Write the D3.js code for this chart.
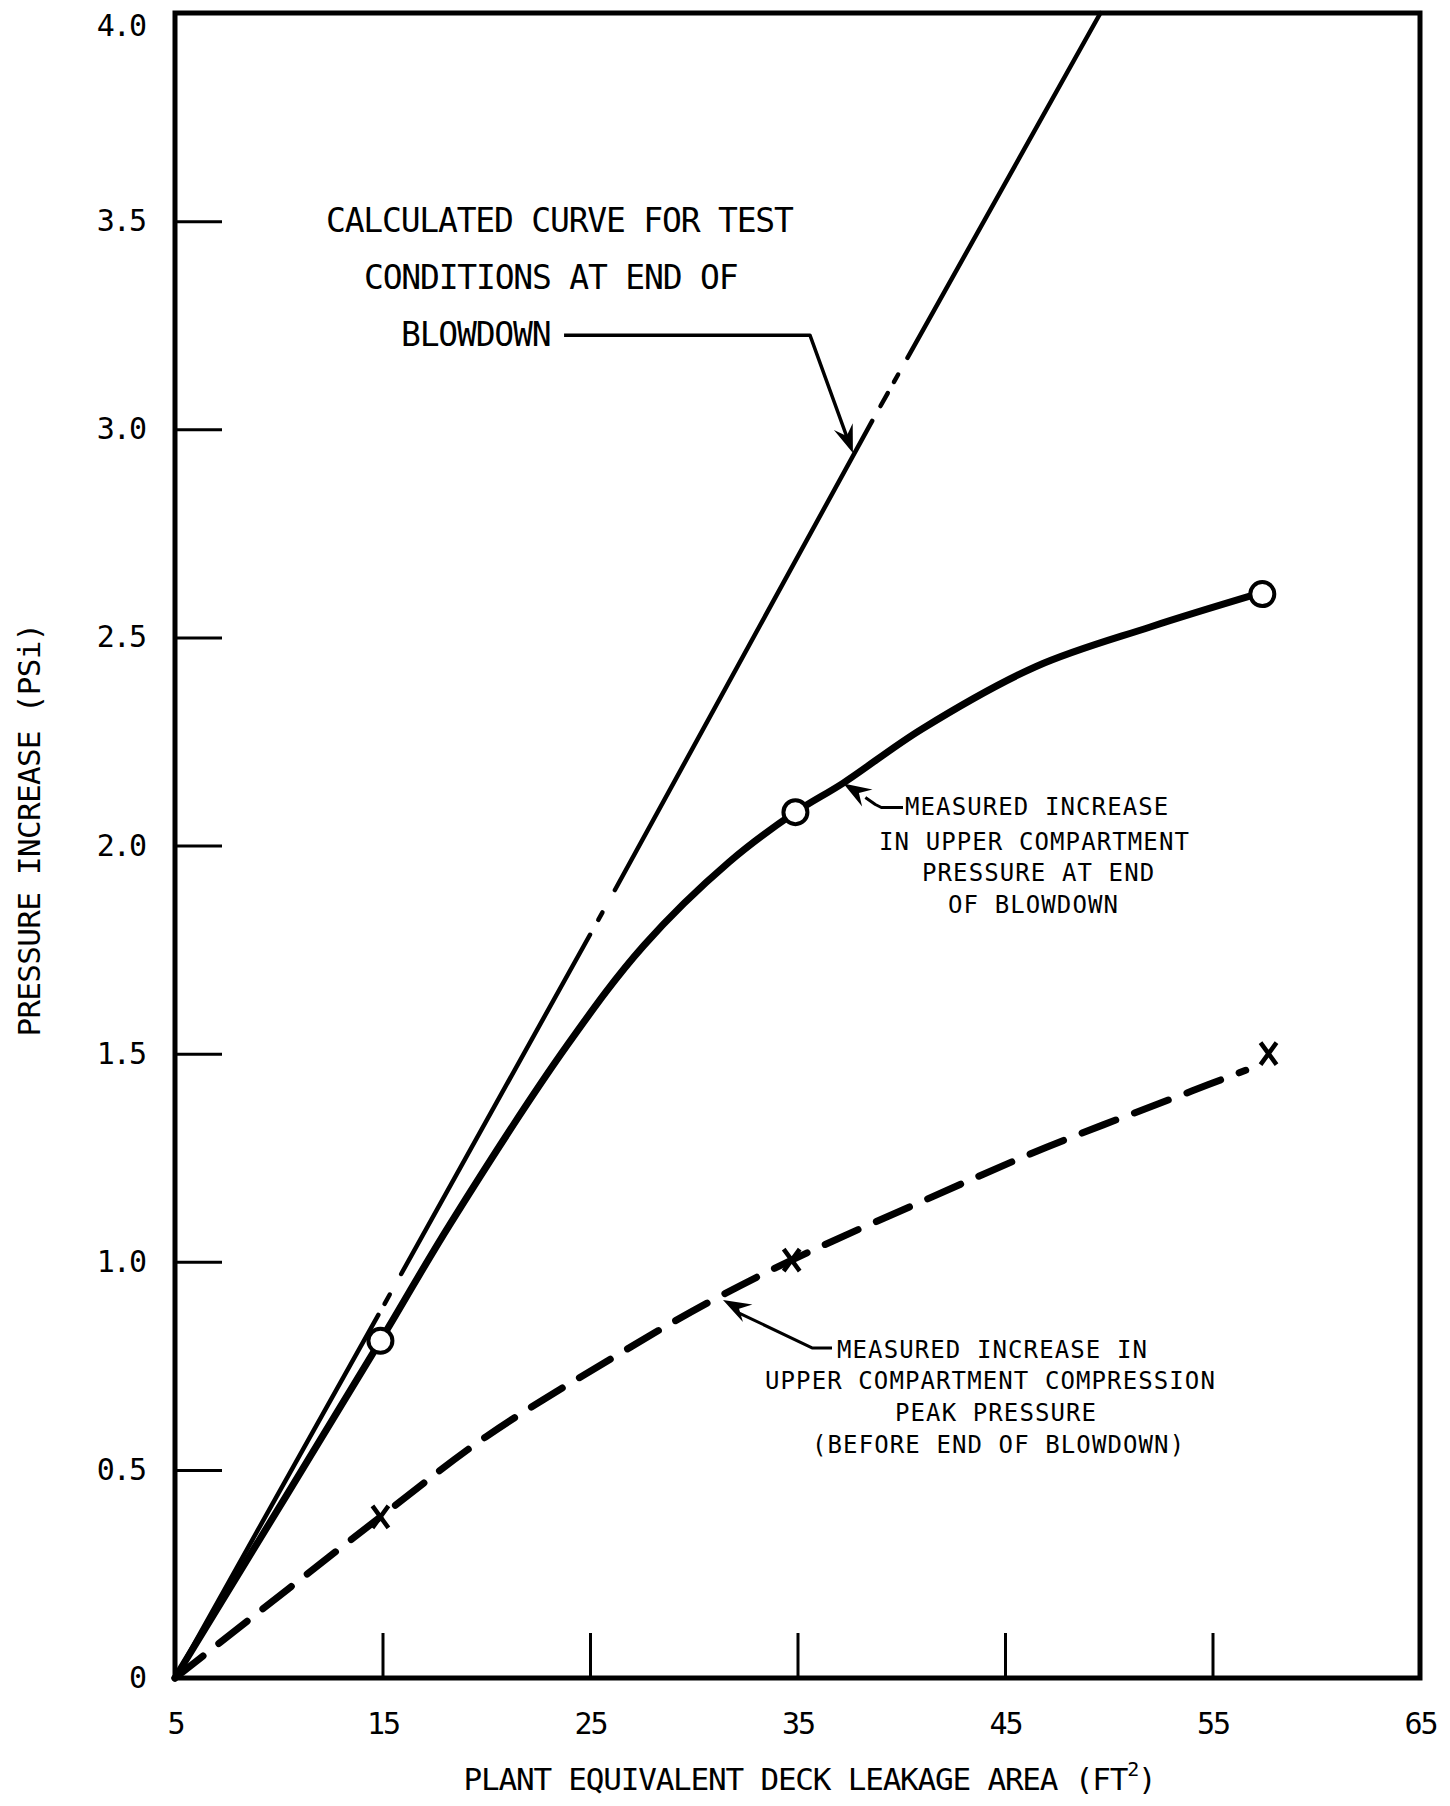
<!DOCTYPE html>
<html><head><meta charset="utf-8">
<script src="https://cdn.jsdelivr.net/npm/d3@7"></script>
<style>body{margin:0;background:#fff}svg{display:block}</style>
</head><body><svg id="c" width="1450" height="1806"></svg>
<script>
// ---------- data ----------
const xTicks = [5, 15, 25, 35, 45, 55, 65];
const yTicks = [0, 0.5, 1.0, 1.5, 2.0, 2.5, 3.0, 3.5, 4.0];

// calculated curve (end of blowdown)
const calcX = [5, 15, 26.2, 37.7, 49.6];
const calcY = [0, 0.89, 1.893, 2.94, 4.0];
// x-ranges where the calculated curve is drawn (breaks = dash-dot sections)
const calcPieces = [[5, 14.8], [15.1, 15.35], [15.9, 25.0], [25.4, 25.6], [26.2, 38.6], [39.0, 39.35], [39.65, 39.85], [40.3, 49.6]];

// measured increase in upper compartment pressure at end of blowdown (solid, circles)
const upperX = [5, 14.9, 18.25, 23.9, 27.6, 31.7, 34.9, 37.2, 41.0, 46.5, 52.0, 57.2];
const upperY = [0, 0.81, 1.09, 1.52, 1.76, 1.96, 2.08, 2.15, 2.28, 2.43, 2.525, 2.605];
const circleX = [14.9, 34.9, 57.4];
const circleY = [0.81, 2.08, 2.604];

// measured compression peak pressure (dashed, X markers)
const peakX = [5, 14.9, 20.0, 26.45, 30.62, 34.72, 41.0, 47.0, 54.0, 56.6];
const peakY = [0, 0.387, 0.58, 0.78, 0.90, 1.004, 1.145, 1.275, 1.41, 1.46];
const crossX = [14.9, 34.72, 57.7];
const crossY = [0.387, 1.004, 1.50];

// annotation texts
const note1 = ["CALCULATED CURVE FOR TEST", "CONDITIONS AT END OF", "BLOWDOWN"];
const note2 = ["MEASURED INCREASE", "IN UPPER COMPARTMENT", "PRESSURE AT END", "OF BLOWDOWN"];
const note3 = ["MEASURED INCREASE IN", "UPPER COMPARTMENT COMPRESSION", "PEAK PRESSURE", "(BEFORE END OF BLOWDOWN)"];

// ---------- drawing ----------
const FONT = "'DejaVu Sans Mono', 'Liberation Mono', monospace";
const svg = d3.select("#c");
const x = d3.scaleLinear().domain([5, 65]).range([175, 1420]);
const y = d3.scaleLinear().domain([0, 4]).range([1678, 13]);

// axes
const fmt = d => d === 0 ? "0" : d.toFixed(1);
const gy = svg.append("g").attr("transform", `translate(${x(5)},0)`)
  .call(d3.axisLeft(y).tickValues(yTicks).tickSize(-47).tickPadding(30).tickFormat(fmt));
const gx = svg.append("g").attr("transform", `translate(0,${y(0)})`)
  .call(d3.axisBottom(x).tickValues(xTicks).tickSize(-45).tickPadding(35).tickFormat(d3.format("d")));
[gx, gy].forEach(g => {
  g.select(".domain").remove();
  g.selectAll(".tick line").attr("stroke", "#000").attr("stroke-width", 3);
  g.selectAll(".tick text").attr("fill", "#000").style("font-family", FONT)
    .style("font-size", "30px").style("letter-spacing", "-2px");
});
// top label sits just below the frame corner so it is not clipped
gy.selectAll(".tick text").filter(d => d === 4).attr("dy", "0.74em");

// frame
svg.append("rect").attr("x", x(5)).attr("y", y(4))
  .attr("width", x(65) - x(5)).attr("height", y(0) - y(4))
  .attr("fill", "none").attr("stroke", "#000").attr("stroke-width", 5);

// axis titles
const xt = svg.append("text").attr("x", (x(5) + x(65)) / 2 + 12).attr("y", 1790)
  .attr("text-anchor", "middle").style("font-family", FONT).style("font-size", "31px")
  .style("letter-spacing", "-1.2px");
xt.append("tspan").text("PLANT EQUIVALENT DECK LEAKAGE AREA (FT");
xt.append("tspan").attr("dy", -14).style("font-size", "20px").text("2");
xt.append("tspan").attr("dy", 14).text(")");

svg.append("text").attr("transform", `translate(40,${830}) rotate(-90)`)
  .attr("text-anchor", "middle").style("font-family", FONT).style("font-size", "31px")
  .style("letter-spacing", "-0.7px").text("PRESSURE INCREASE (PSi)");

// calculated curve, drawn piece by piece
const calcInterp = d3.scaleLinear().domain(calcX).range(calcY);
const lineXY = d3.line().x(d => x(d[0])).y(d => y(d[1]));
calcPieces.forEach(([a, b]) => {
  svg.append("path").datum([[a, calcInterp(a)], [b, calcInterp(b)]])
    .attr("d", lineXY).attr("fill", "none").attr("stroke", "#000")
    .attr("stroke-width", 4.5).attr("stroke-linecap", "round");
});

// measured upper compartment pressure curve
const upper = upperX.map((v, i) => [v, upperY[i]]);
svg.append("path").datum(upper)
  .attr("d", d3.line().x(d => x(d[0])).y(d => y(d[1])).curve(d3.curveCatmullRom.alpha(0.5)))
  .attr("fill", "none").attr("stroke", "#000").attr("stroke-width", 7)
  .attr("stroke-linecap", "round").attr("stroke-linejoin", "round");

// measured peak pressure (dashed)
const peak = peakX.map((v, i) => [v, peakY[i]]);
svg.append("path").datum(peak)
  .attr("d", d3.line().x(d => x(d[0])).y(d => y(d[1])).curve(d3.curveCatmullRom.alpha(0.5)))
  .attr("fill", "none").attr("stroke", "#000").attr("stroke-width", 7)
  .attr("stroke-linecap", "round").attr("stroke-dasharray", "36,20");

// circles
svg.selectAll("circle.m").data(circleX.map((v, i) => [v, circleY[i]])).join("circle")
  .attr("cx", d => x(d[0])).attr("cy", d => y(d[1])).attr("r", 12)
  .attr("fill", "#fff").attr("stroke", "#000").attr("stroke-width", 4);

// X markers
svg.selectAll("path.x").data(crossX.map((v, i) => [v, crossY[i]])).join("path")
  .attr("d", d => {
    const cx = x(d[0]), cy = y(d[1]);
    return `M${cx - 8},${cy - 11}L${cx + 8},${cy + 11}M${cx + 8},${cy - 11}L${cx - 8},${cy + 11}`;
  })
  .attr("fill", "none").attr("stroke", "#000").attr("stroke-width", 4.5);

// ---------- annotations ----------
function arrowHead(tip, from, L = 28, W = 10) {
  const dx = tip[0] - from[0], dy = tip[1] - from[1];
  const len = Math.hypot(dx, dy), ux = dx / len, uy = dy / len, nx = -uy, ny = ux;
  const p = [
    [tip[0], tip[1]],
    [tip[0] - L * ux + W * nx, tip[1] - L * uy + W * ny],
    [tip[0] - 0.65 * L * ux, tip[1] - 0.65 * L * uy],
    [tip[0] - L * ux - W * nx, tip[1] - L * uy - W * ny]
  ];
  svg.append("path").attr("d", "M" + p.map(q => q.join(",")).join("L") + "Z").attr("fill", "#000");
}
function leader(pts, w) {
  svg.append("path").attr("d", d3.line()(pts)).attr("fill", "none")
    .attr("stroke", "#000").attr("stroke-width", w).attr("stroke-linejoin", "round");
}
function textBlock(lines, lefts, ys, size, spacing) {
  lines.forEach((t, i) => {
    svg.append("text").attr("x", lefts[i]).attr("y", ys[i])
      .style("font-family", FONT).style("font-size", size + "px")
      .style("letter-spacing", spacing + "px").text(t);
  });
}

// note 1 : calculated curve
textBlock(note1, [326, 364, 401], [232, 289, 346], 33, -1.2);
const tip1 = [x(37.67), y(2.943)];
const corner1 = [x(35.6), y(3.226)];
leader([[x(23.75), y(3.226)], corner1, [tip1[0] - 6, tip1[1] - 16]], 3.5);
arrowHead(tip1, corner1);

// note 2 : upper compartment pressure
textBlock(note2, [905, 879, 922, 948], [815, 850, 881, 913], 24, 1.1);
const tip2 = [x(37.21), y(2.149)];
const base2 = [tip2[0] + 26, tip2[1] + 16];
leader([[base2[0] - 4, base2[1] - 2], [base2[0] + 6, base2[1] + 5], [base2[0] + 12, base2[1] + 8], [903, base2[1] + 8]], 3);
arrowHead(tip2, [tip2[0] + 28, tip2[1] + 17]);

// note 3 : compression peak pressure
textBlock(note3, [837, 765, 895, 812], [1358, 1389, 1421, 1453], 24, 1.1);
const tip3 = [x(31.41), y(0.908)];
const bend3 = [x(35.7), y(0.793)];
leader([[tip3[0] + 14, tip3[1] + 12], bend3, [832, y(0.793)]], 3);
arrowHead(tip3, bend3);
</script></body></html>
